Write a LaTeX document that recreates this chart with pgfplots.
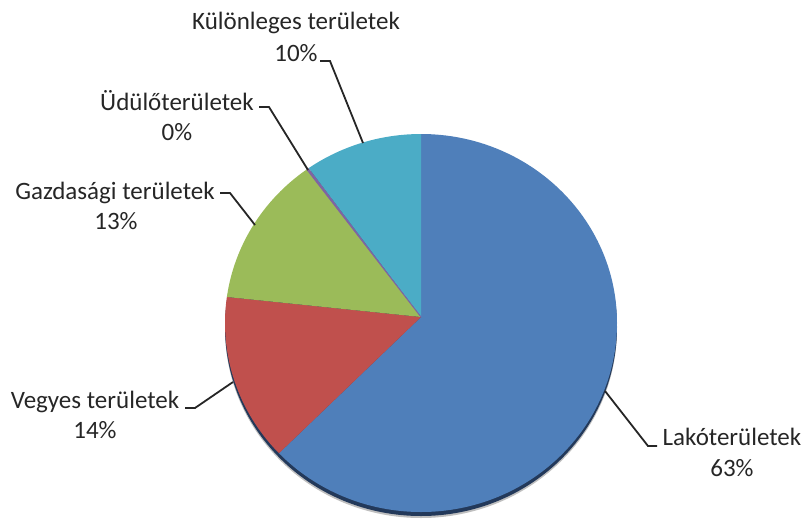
\documentclass[border=0pt]{standalone}
\usepackage{pgfplots}
\pgfplotsset{compat=1.18}
\usepackage{pgfplotstable}
\usepackage{fontspec}
\setmainfont{Carlito}

\definecolor{cLako}{HTML}{4F7FBA}
\definecolor{cVegyes}{HTML}{C0504D}
\definecolor{cGazd}{HTML}{9BBB59}
\definecolor{cUdulo}{HTML}{8064A2}
\definecolor{cKulon}{HTML}{4BACC6}
\definecolor{cShadow}{HTML}{23395A}

% share of each land-use category (percent)
\pgfplotstableread{
label value
Lako 62.9
Vegyes 14.3
Gazdasagi 12.9
Udulo 0.2
Kulonleges 9.7
}\piedata

\pgfplotstablegetelem{0}{value}\of\piedata \let\vA\pgfplotsretval
\pgfplotstablegetelem{1}{value}\of\piedata \let\vB\pgfplotsretval
\pgfplotstablegetelem{2}{value}\of\piedata \let\vC\pgfplotsretval
\pgfplotstablegetelem{3}{value}\of\piedata \let\vD\pgfplotsretval
\pgfplotstablegetelem{4}{value}\of\piedata \let\vE\pgfplotsretval

\pgfmathsetmacro\aA{90}
\pgfmathsetmacro\aB{\aA-3.6*\vA}
\pgfmathsetmacro\aC{\aB-3.6*\vB}
\pgfmathsetmacro\aD{\aC-3.6*\vC}
\pgfmathsetmacro\aE{\aD-3.6*\vD}
\pgfmathsetmacro\aF{\aE-3.6*\vE}

\def\cx{421}
\def\cy{323}
\def\apy{317}
\def\rx{196}
\def\ry{189}

\newcommand\slice[3]{%
  \fill[#3] (axis cs:\cx,\apy) -- (axis cs:{\cx+\rx*cos(#1)},{\cy-\ry*sin(#1)})
    arc[start angle=#1, end angle=#2, x radius=\rx pt, y radius=\ry pt] -- cycle;}

\begin{document}
\begin{tikzpicture}
\begin{axis}[
  width=807pt, height=523pt, scale only axis,
  xmin=0, xmax=807, ymin=0, ymax=523, y dir=reverse,
  hide axis, clip=false,
]
% shadow
\fill[black!25] (axis cs:\cx,{\cy+6}) ellipse[x radius=\rx pt, y radius=\ry pt];
\fill[cShadow] (axis cs:\cx,{\cy+4}) ellipse[x radius=\rx pt, y radius=\ry pt];
% slices
\slice{\aA}{\aB}{cLako}
\slice{\aB}{\aC}{cVegyes}
\slice{\aC}{\aD}{cGazd}
\slice{\aD}{\aE}{cUdulo}
\slice{\aE}{\aF}{cKulon}
\draw[cUdulo, line width=1pt] (axis cs:\cx,\apy) -- (axis cs:{\cx+\rx*cos(\aD)},{\cy-\ry*sin(\aD)});
% leader lines
\draw[black!85, line width=1.8pt] (axis cs:320,61) -- (axis cs:330,61) -- (axis cs:363,143);
\draw[black!85, line width=1.8pt] (axis cs:259,107) -- (axis cs:269,107) -- (axis cs:308,170);
\draw[black!85, line width=1.8pt] (axis cs:220,193) -- (axis cs:230,193) -- (axis cs:255,225);
\draw[black!85, line width=1.8pt] (axis cs:185,408) -- (axis cs:195,408) -- (axis cs:233,382);
\draw[black!85, line width=1.8pt] (axis cs:605,391) -- (axis cs:648,446) -- (axis cs:657,446);
% labels
\tikzset{lbl/.style={anchor=base, inner sep=0pt, text=black!85, font=\fontsize{25}{31}\selectfont}}
\node[lbl] at (axis cs:296,29) {Különleges területek};
\node[lbl] at (axis cs:296,61) {10\%};
\node[lbl] at (axis cs:177,110) {Üdülőterületek};
\node[lbl] at (axis cs:177,140) {0\%};
\node[lbl] at (axis cs:115,199) {Gazdasági területek};
\node[lbl] at (axis cs:116,229) {13\%};
\node[lbl] at (axis cs:95,408) {Vegyes területek};
\node[lbl] at (axis cs:95,438) {14\%};
\node[lbl] at (axis cs:732,445) {Lakóterületek};
\node[lbl] at (axis cs:732,476) {63\%};
\end{axis}
\path (current axis.south west) rectangle (current axis.north east);
\end{tikzpicture}
\end{document}
